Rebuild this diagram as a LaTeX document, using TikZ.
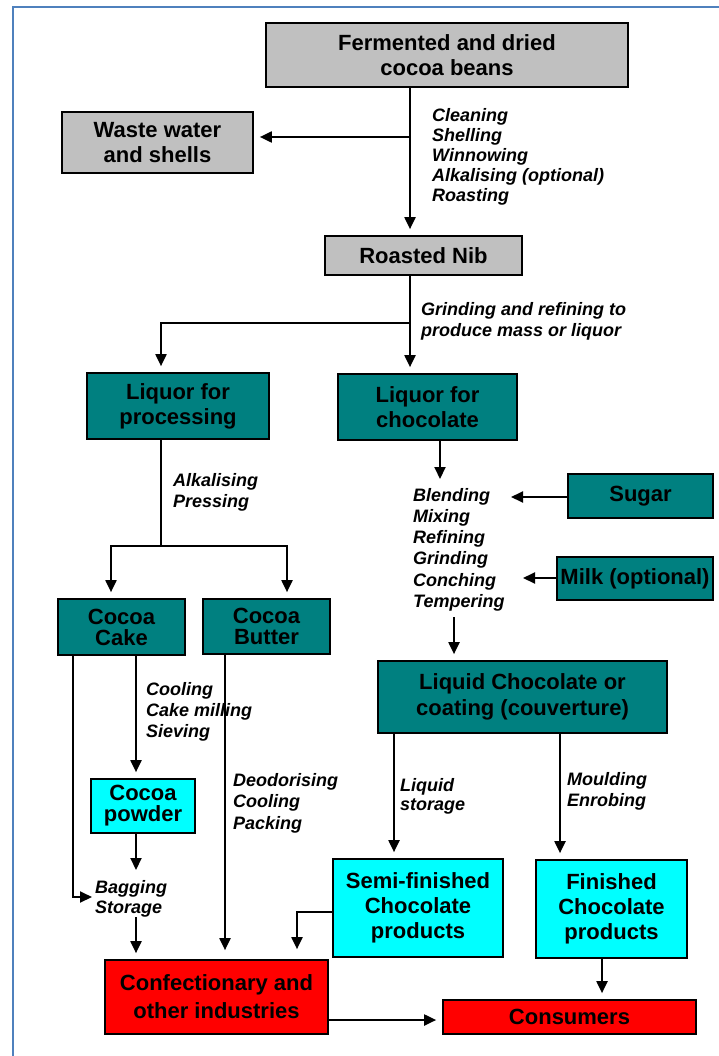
\documentclass[tikz,border=0pt]{standalone}
\usepackage{fontspec}
\setmainfont{Liberation Sans}
\usetikzlibrary{arrows.meta}
\definecolor{boxgray}{HTML}{C0C0C0}
\definecolor{tealbox}{HTML}{008080}
\definecolor{cyanbox}{HTML}{00FFFF}
\definecolor{redbox}{HTML}{FF0000}
\definecolor{frameblue}{HTML}{4F81BD}
\begin{document}
\begin{tikzpicture}[x=1pt,y=-1pt,
  box/.style={draw=black, line width=1.7pt, inner sep=0pt, align=center},
  bf/.style={font=\bfseries\fontsize{22}{#1}\selectfont},
  gbox/.style={box, fill=boxgray},
  tbox/.style={box, fill=tealbox},
  cbox/.style={box, fill=cyanbox},
  rbox/.style={box, fill=redbox},
  lab/.style={anchor=north west, inner sep=0pt, align=left, font=\bfseries\itshape\fontsize{18}{#1}\selectfont},
  ln/.style={line width=2pt},
  arrfree/.style={line width=2pt, -{Triangle[length=12pt,width=11pt]}},
  arr/.style={arrfree, shorten >=6pt},
]
\useasboundingbox (0,0) rectangle (719,1056);
% frame (left and top edges visible)
\draw[frameblue, line width=2pt] (13,1070) -- (13,7) -- (730,7);

% boxes
\node[gbox, bf=25, minimum width=362, minimum height=64] (beans) at (447,55) {Fermented and dried\\cocoa beans};
\node[gbox, bf=25, minimum width=191, minimum height=61] (waste) at (157.5,142.5) {Waste water\\and shells};
\node[gbox, bf=25, minimum width=197, minimum height=39] (nib) at (423.5,255.5) {Roasted Nib};
\node[tbox, bf=25, minimum width=182, minimum height=66] (lproc) at (178,406) {Liquor for\\processing};
\node[tbox, bf=25, minimum width=179, minimum height=66] (lchoc) at (427.5,407) {Liquor for\\chocolate};
\node[tbox, bf=25, minimum width=145, minimum height=44] (sugar) at (640.5,496) {Sugar};
\node[tbox, bf=25, minimum width=156, minimum height=43] (milk) at (635,578.5) {Milk (optional)};
\node[tbox, bf=21, minimum width=127, minimum height=56] (cake) at (121.5,627) {Cocoa\\Cake};
\node[tbox, bf=21, minimum width=127, minimum height=55] (butter) at (266.5,626.5) {Cocoa\\Butter};
\node[tbox, bf=26, minimum width=289, minimum height=72] (liqchoc) at (522.5,697) {Liquid Chocolate or\\coating (couverture)};
\node[cbox, bf=21, minimum width=104, minimum height=54] (powder) at (143,806) {Cocoa\\powder};
\node[cbox, bf=25, minimum width=170, minimum height=98] (semi) at (418,908) {Semi-finished\\Chocolate\\products};
\node[cbox, bf=25, minimum width=151, minimum height=98] (finished) at (611.5,909) {Finished\\Chocolate\\products};
\node[rbox, bf=28, minimum width=223, minimum height=74] (conf) at (216.5,997) {Confectionary and\\other industries};
\node[rbox, bf=25, minimum width=253, minimum height=34] (consumers) at (569.5,1017) {Consumers};

% labels
\node[lab=20] (l1) at (432,108) {Cleaning\\Shelling\\Winnowing\\Alkalising (optional)\\Roasting};
\node[lab=21] (l2) at (421,302) {Grinding and refining to\\produce mass or liquor};
\node[lab=21] (l3) at (173,473) {Alkalising\\Pressing};
\node[lab=21.2] (l4) at (413,488) {Blending\\Mixing\\Refining\\Grinding\\Conching\\Tempering};
\node[lab=21] (l5) at (146,682) {Cooling\\Cake milling\\Sieving};
\node[lab=21.5] (l6) at (233,773) {Deodorising\\Cooling\\Packing};
\node[lab=19] (l7) at (400,778) {Liquid\\storage};
\node[lab=21] (l8) at (567,772) {Moulding\\Enrobing};
\node[lab=20] (l9) at (95,880) {Bagging\\Storage};

% connector points
\coordinate (j1) at (410,137);
\coordinate (j2) at (410,323);
\coordinate (j2l) at (161,323);
\coordinate (j3) at (161,546);
\coordinate (j3l) at (111,546);
\coordinate (j3r) at (287,546);
\coordinate (a4) at (440,479);
\coordinate (a5) at (511,497);
\coordinate (a6) at (523,578);
\coordinate (a7) at (454,617);
\coordinate (a8) at (73,897);
\coordinate (a8e) at (92,897);
\coordinate (a9) at (136,870);
\coordinate (a11) at (136,917);
\coordinate (a12) at (225,0);
\coordinate (a13) at (297,912);
\coordinate (a14) at (394,0);
\coordinate (a15) at (560,0);
\coordinate (a16) at (602,0);
\coordinate (a17) at (0,1020);

% connectors
\draw[arr] (beans.south -| j1) -- (nib.north -| j1);
\draw[arr] (j1) -- (waste.east |- j1);
\draw[arr] (nib.south -| j2) -- (lchoc.north -| j2);
\draw[arr] (j2) -- (j2l) -- (lproc.north -| j2l);
\draw[ln] (lproc.south -| j3) -- (j3);
\draw[arr] (j3) -- (j3l) -- (cake.north -| j3l);
\draw[arr] (j3) -- (j3r) -- (butter.north -| j3r);
\draw[arrfree] (lchoc.south -| a4) -- (a4);
\draw[arrfree] (sugar.west |- a5) -- (a5);
\draw[arrfree] (milk.west |- a6) -- (a6);
\draw[arr] (a7) -- (liqchoc.north -| a7);
\draw[arrfree] (cake.south -| a8) -- (a8) -- (a8e);
\draw[arr] (cake.south -| a9) -- (powder.north -| a9);
\draw[arrfree] (powder.south -| a9) -- (a9);
\draw[arr] (a11) -- (conf.north -| a11);
\draw[arr, shorten >=9pt] (butter.south -| a12) -- (conf.north -| a12);
\draw[arr, shorten >=10pt] (semi.west |- a13) -- (a13) -- (conf.north -| a13);
\draw[arr] (liqchoc.south -| a14) -- (semi.north -| a14);
\draw[arr] (liqchoc.south -| a15) -- (finished.north -| a15);
\draw[arr] (finished.south -| a16) -- (consumers.north -| a16);
\draw[arr] (conf.east |- a17) -- (consumers.west |- a17);
\end{tikzpicture}
\end{document}
